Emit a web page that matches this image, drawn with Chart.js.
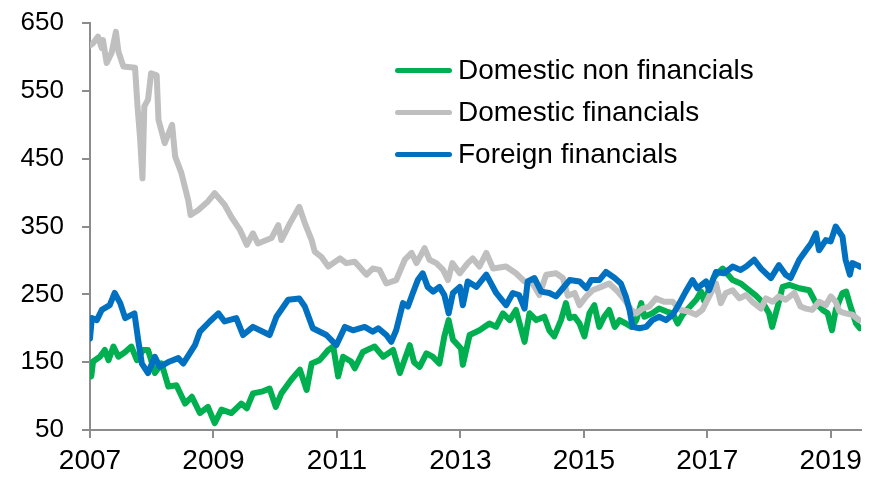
<!DOCTYPE html>
<html>
<head>
<meta charset="utf-8">
<script src="https://cdn.jsdelivr.net/npm/chart.js@4.4.1/dist/chart.umd.min.js"></script>
<style>
  body { margin: 0; background: #fff; }
  #wrap { position: relative; width: 879px; height: 478px; }
  #legend { position: absolute; left: 395px; top: 49px; font-family: Arial, "Liberation Sans", sans-serif; font-size: 28px; color: #000; }
  .row { display: flex; align-items: center; height: 42px; white-space: nowrap; }
  .swatch { width: 57px; height: 5px; border-radius: 3px; margin-right: 6px; }
</style>
</head>
<body>
<div id="wrap">
  <canvas id="myChart" width="879" height="478"></canvas>
  <div id="legend"></div>
</div>
<script>
  const seriesNames = ["Domestic non financials", "Domestic financials", "Foreign financials"];
  const seriesColors = ["#00B050", "#BFBFBF", "#0070C0"];

  const xTicks = [2007, 2009, 2011, 2013, 2015, 2017, 2019];
  const yTicks = [50, 150, 250, 350, 450, 550, 650];

  // Domestic non financials
  const greenDates = [2007.00, 2007.02, 2007.05, 2007.16, 2007.24, 2007.30, 2007.38, 2007.46, 2007.57, 2007.67, 2007.76, 2007.86, 2007.94, 2008.00, 2008.05, 2008.16, 2008.27, 2008.40, 2008.54, 2008.65, 2008.78, 2008.91, 2009.02, 2009.13, 2009.29, 2009.45, 2009.54, 2009.64, 2009.80, 2009.91, 2010.01, 2010.10, 2010.26, 2010.40, 2010.51, 2010.59, 2010.72, 2010.86, 2010.94, 2011.02, 2011.10, 2011.23, 2011.29, 2011.42, 2011.61, 2011.75, 2011.91, 2012.02, 2012.18, 2012.25, 2012.34, 2012.45, 2012.55, 2012.66, 2012.74, 2012.81, 2012.88, 2013.01, 2013.04, 2013.15, 2013.31, 2013.47, 2013.58, 2013.69, 2013.80, 2013.90, 2014.04, 2014.12, 2014.23, 2014.36, 2014.44, 2014.52, 2014.63, 2014.71, 2014.77, 2014.85, 2014.93, 2015.01, 2015.09, 2015.17, 2015.25, 2015.33, 2015.41, 2015.50, 2015.58, 2015.68, 2015.77, 2015.85, 2015.93, 2015.98, 2016.11, 2016.22, 2016.33, 2016.44, 2016.52, 2016.60, 2016.72, 2016.82, 2016.90, 2016.95, 2017.11, 2017.25, 2017.41, 2017.54, 2017.68, 2017.78, 2017.89, 2018.00, 2018.05, 2018.14, 2018.22, 2018.33, 2018.49, 2018.65, 2018.76, 2018.87, 2018.95, 2019.02, 2019.08, 2019.19, 2019.25, 2019.32, 2019.41, 2019.47];
  const greenValues = [148, 129, 151, 158, 168, 153, 173, 158, 165, 173, 153, 168, 168, 150, 134, 148, 114, 116, 89, 99, 75, 84, 60, 80, 75, 89, 82, 104, 107, 111, 84, 104, 124, 139, 109, 148, 153, 168, 173, 129, 158, 151, 141, 165, 173, 158, 168, 134, 175, 150, 143, 163, 158, 148, 188, 212, 183, 170, 146, 190, 197, 207, 202, 222, 212, 227, 180, 222, 212, 217, 197, 188, 212, 237, 215, 217, 207, 188, 222, 234, 202, 217, 227, 202, 212, 207, 202, 212, 237, 217, 222, 229, 225, 222, 207, 220, 232, 242, 254, 240, 276, 288, 271, 266, 256, 249, 239, 222, 202, 232, 261, 264, 259, 256, 237, 227, 222, 197, 227, 252, 254, 232, 207, 200];

  // Domestic financials
  const grayDates = [2007.00, 2007.05, 2007.13, 2007.19, 2007.21, 2007.27, 2007.35, 2007.42, 2007.46, 2007.54, 2007.73, 2007.77, 2007.81, 2007.85, 2007.88, 2007.94, 2007.99, 2008.08, 2008.11, 2008.21, 2008.33, 2008.38, 2008.48, 2008.59, 2008.63, 2008.75, 2008.91, 2009.02, 2009.18, 2009.29, 2009.43, 2009.54, 2009.64, 2009.72, 2009.94, 2010.05, 2010.10, 2010.24, 2010.39, 2010.48, 2010.59, 2010.64, 2010.75, 2010.86, 2011.05, 2011.15, 2011.29, 2011.48, 2011.58, 2011.69, 2011.80, 2011.96, 2012.10, 2012.21, 2012.29, 2012.42, 2012.50, 2012.61, 2012.72, 2012.80, 2012.87, 2012.99, 2013.12, 2013.20, 2013.31, 2013.42, 2013.53, 2013.74, 2013.90, 2014.04, 2014.17, 2014.28, 2014.39, 2014.55, 2014.66, 2014.74, 2014.85, 2014.93, 2015.04, 2015.14, 2015.28, 2015.41, 2015.55, 2015.66, 2015.77, 2015.85, 2015.95, 2016.06, 2016.17, 2016.30, 2016.44, 2016.57, 2016.68, 2016.82, 2016.92, 2017.03, 2017.14, 2017.22, 2017.30, 2017.41, 2017.52, 2017.63, 2017.73, 2017.87, 2017.95, 2018.06, 2018.16, 2018.27, 2018.41, 2018.51, 2018.60, 2018.70, 2018.81, 2018.92, 2019.00, 2019.08, 2019.14, 2019.24, 2019.35, 2019.46];
  const grayValues = [617, 620, 630, 613, 625, 591, 606, 637, 608, 586, 584, 527, 482, 421, 527, 537, 576, 573, 507, 473, 500, 453, 429, 389, 367, 374, 387, 399, 382, 364, 345, 323, 340, 325, 333, 352, 330, 355, 379, 355, 330, 313, 305, 291, 303, 296, 298, 279, 288, 286, 266, 271, 301, 311, 296, 318, 301, 296, 286, 271, 296, 281, 296, 303, 291, 311, 288, 291, 281, 269, 266, 249, 279, 281, 274, 248, 252, 234, 247, 256, 261, 266, 254, 242, 227, 222, 229, 232, 244, 239, 239, 227, 225, 220, 227, 247, 266, 237, 252, 256, 244, 249, 239, 229, 244, 239, 247, 242, 252, 232, 229, 227, 239, 234, 247, 239, 225, 222, 220, 212];

  // Foreign financials
  const blueDates = [2007.00, 2007.03, 2007.11, 2007.19, 2007.32, 2007.40, 2007.49, 2007.57, 2007.72, 2007.78, 2007.84, 2007.94, 2008.05, 2008.13, 2008.29, 2008.43, 2008.51, 2008.70, 2008.78, 2008.94, 2009.08, 2009.18, 2009.37, 2009.48, 2009.64, 2009.91, 2010.02, 2010.21, 2010.39, 2010.48, 2010.61, 2010.83, 2010.99, 2011.13, 2011.26, 2011.45, 2011.58, 2011.67, 2011.80, 2011.88, 2011.96, 2012.07, 2012.15, 2012.23, 2012.31, 2012.39, 2012.47, 2012.56, 2012.66, 2012.74, 2012.81, 2012.88, 2012.99, 2013.04, 2013.12, 2013.26, 2013.42, 2013.58, 2013.74, 2013.85, 2013.95, 2014.04, 2014.09, 2014.20, 2014.31, 2014.44, 2014.55, 2014.66, 2014.77, 2014.93, 2015.04, 2015.12, 2015.25, 2015.36, 2015.50, 2015.60, 2015.68, 2015.74, 2015.79, 2015.90, 2016.01, 2016.11, 2016.22, 2016.33, 2016.44, 2016.55, 2016.65, 2016.76, 2016.84, 2016.98, 2017.03, 2017.14, 2017.27, 2017.41, 2017.54, 2017.63, 2017.76, 2017.87, 2018.03, 2018.16, 2018.27, 2018.35, 2018.49, 2018.60, 2018.68, 2018.76, 2018.81, 2018.92, 2019.00, 2019.08, 2019.19, 2019.24, 2019.31, 2019.35, 2019.43, 2019.47];
  const blueValues = [185, 215, 212, 227, 234, 252, 237, 215, 222, 183, 148, 134, 158, 143, 151, 156, 148, 175, 195, 210, 222, 210, 215, 190, 202, 190, 217, 242, 244, 232, 200, 190, 175, 202, 197, 202, 195, 200, 190, 180, 197, 237, 232, 252, 271, 281, 261, 254, 261, 249, 222, 252, 261, 234, 269, 261, 279, 252, 234, 252, 249, 229, 269, 274, 254, 252, 247, 259, 271, 269, 259, 271, 271, 283, 274, 266, 247, 227, 202, 200, 202, 212, 217, 212, 220, 237, 254, 271, 259, 269, 256, 283, 281, 291, 286, 291, 301, 288, 274, 293, 279, 274, 301, 315, 325, 340, 315, 330, 328, 350, 335, 301, 279, 296, 293, 291];

  function toPoints(dates, values) {
    return dates.map(function (d, i) {
      return { x: d, y: values[i] };
    });
  }

  const allDates = [greenDates, grayDates, blueDates];
  const allValues = [greenValues, grayValues, blueValues];
  const drawOrder = [3, 2, 1]; // blue on top, green underneath

  const datasets = seriesNames.map(function (name, i) {
    return {
      label: name,
      data: toPoints(allDates[i], allValues[i]),
      borderColor: seriesColors[i],
      backgroundColor: seriesColors[i],
      borderWidth: 6,
      pointRadius: 0,
      tension: 0,
      borderCapStyle: "round",
      borderJoinStyle: "round",
      order: drawOrder[i],
    };
  });

  const axisGray = "#8C8C8C";
  const font = "Arial, 'Liberation Sans', sans-serif";

  const config = {
    type: "line",
    data: { datasets: datasets },
    options: {
      responsive: false,
      animation: false,
      devicePixelRatio: 1,
      layout: { padding: { top: 23, right: 18, left: 0, bottom: 0 } },
      plugins: {
        legend: { display: false },
        tooltip: { enabled: false },
      },
      scales: {
        x: {
          type: "linear",
          min: 2007,
          max: 2019.49,
          afterBuildTicks: function (scale) {
            scale.ticks = xTicks.map(function (v) { return { value: v }; });
          },
          afterFit: function (scale) {
            scale.height = 48;
            scale.paddingLeft = 0;
            scale.paddingRight = 0;
          },
          border: { display: true, color: axisGray, width: 2 },
          grid: { display: true, drawOnChartArea: false, drawTicks: true, tickLength: 8, color: axisGray, lineWidth: 2 },
          ticks: {
            padding: 6,
            color: "#000",
            font: { family: font, size: 28 },
            maxRotation: 0,
            autoSkip: false,
            callback: function (v) { return String(v); },
          },
        },
        y: {
          min: 50,
          max: 650,
          afterBuildTicks: function (scale) {
            scale.ticks = yTicks.map(function (v) { return { value: v }; });
          },
          afterFit: function (scale) {
            // keep the plot area where the picture has it
            scale.width = 90;
            scale.paddingTop = 0;
            scale.paddingBottom = 0;
          },
          border: { display: true, color: axisGray, width: 2 },
          grid: { display: true, drawOnChartArea: false, drawTicks: true, tickLength: 8, color: axisGray, lineWidth: 2 },
          ticks: {
            padding: 18,
            color: "#000",
            font: { family: font, size: 26 },
            autoSkip: false,
          },
        },
      },
    },
  };

  const myChart = new Chart(document.getElementById("myChart"), config);

  // legend drawn as html, built from the datasets
  var legend = document.getElementById("legend");
  myChart.data.datasets.forEach(function (ds) {
    var row = document.createElement("div");
    row.className = "row";
    var sw = document.createElement("span");
    sw.className = "swatch";
    sw.style.background = ds.borderColor;
    var txt = document.createElement("span");
    txt.textContent = ds.label;
    row.appendChild(sw);
    row.appendChild(txt);
    legend.appendChild(row);
  });
</script>
</body>
</html>
